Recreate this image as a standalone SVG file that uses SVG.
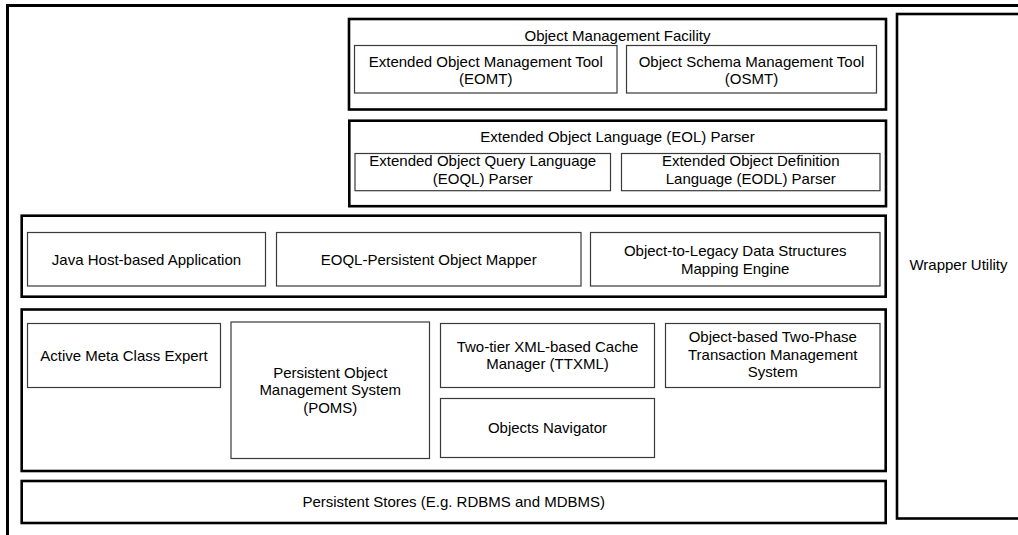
<svg xmlns="http://www.w3.org/2000/svg" width="1018" height="535" viewBox="0 0 1018 535">
<style>
  .outer { fill: #ffffff; stroke: #000000; stroke-width: 2.6; }
  .inner { fill: #ffffff; stroke: #3a3a3a; stroke-width: 1.2; }
  text { font-family: "Liberation Sans", Arial, sans-serif; font-size: 15px; fill: #000000; text-anchor: middle; }
</style>
<rect x="0" y="0" width="1018" height="535" fill="#ffffff"/>
<path d="M7.5,535 V5.5 H1018" fill="none" stroke="#000000" stroke-width="3"/>

<g id="object-management-facility">
  <rect class="outer" x="349" y="19" width="537" height="90.5"/>
  <text x="617.5" y="40.5">Object Management Facility</text>
</g>
<g id="eomt">
  <rect class="inner" x="354.5" y="45.5" width="262.5" height="47.5"/>
  <text x="485.75" y="66.5">Extended Object Management Tool<tspan x="485.75" dy="17.5">(EOMT)</tspan></text>
</g>
<g id="osmt">
  <rect class="inner" x="626.5" y="45.5" width="250" height="47.5"/>
  <text x="751.5" y="66.5">Object Schema Management Tool<tspan x="751.5" dy="17.5">(OSMT)</tspan></text>
</g>

<g id="eol-parser">
  <rect class="outer" x="349.3" y="120.7" width="536.7" height="85.5"/>
  <text x="617.5" y="141.5">Extended Object Language (EOL) Parser</text>
</g>
<g id="eoql-parser">
  <rect class="inner" x="355" y="153.5" width="255.5" height="37.2"/>
  <text x="482.75" y="166">Extended Object Query Language<tspan x="482.75" dy="17.5">(EOQL) Parser</tspan></text>
</g>
<g id="eodl-parser">
  <rect class="inner" x="621.5" y="153.5" width="258.5" height="37.2"/>
  <text x="750.75" y="166">Extended Object Definition<tspan x="750.75" dy="17.5">Language (EODL) Parser</tspan></text>
</g>

<g id="mapping-layer">
  <rect class="outer" x="21.7" y="215.7" width="864" height="81"/>
</g>
<g id="java-host-app">
  <rect class="inner" x="27.5" y="232.5" width="238" height="53.5"/>
  <text x="146.5" y="264.5">Java Host-based Application</text>
</g>
<g id="eoql-po-mapper">
  <rect class="inner" x="276.5" y="232.5" width="304.5" height="53.5"/>
  <text x="428.75" y="264.5">EOQL-Persistent Object Mapper</text>
</g>
<g id="o2l-engine">
  <rect class="inner" x="590.5" y="232.5" width="289.5" height="53.5"/>
  <text x="735.25" y="256">Object-to-Legacy Data Structures<tspan x="735.25" dy="17.5">Mapping Engine</tspan></text>
</g>

<g id="core-layer">
  <rect class="outer" x="21.7" y="309.5" width="864" height="161.5"/>
</g>
<g id="active-meta-class">
  <rect class="inner" x="27.5" y="323.5" width="193" height="64"/>
  <text x="124" y="360.5">Active Meta Class Expert</text>
</g>
<g id="poms">
  <rect class="inner" x="231" y="322" width="198.5" height="136.5"/>
  <text x="330.25" y="377.5">Persistent Object<tspan x="330.25" dy="17.5">Management System</tspan><tspan x="330.25" dy="17.5">(POMS)</tspan></text>
</g>
<g id="ttxml">
  <rect class="inner" x="440.5" y="323.5" width="214" height="64"/>
  <text x="547.5" y="351.5">Two-tier XML-based Cache<tspan x="547.5" dy="17.5">Manager (TTXML)</tspan></text>
</g>
<g id="objects-navigator">
  <rect class="inner" x="440.5" y="398.5" width="214" height="59"/>
  <text x="547.5" y="433">Objects Navigator</text>
</g>
<g id="two-phase-tm">
  <rect class="inner" x="665.5" y="323.5" width="214.5" height="64"/>
  <text x="772.75" y="342">Object-based Two-Phase<tspan x="772.75" dy="17.5">Transaction Management</tspan><tspan x="772.75" dy="17.5">System</tspan></text>
</g>

<g id="persistent-stores">
  <rect class="outer" x="21.7" y="481" width="864" height="42"/>
  <text x="453.7" y="507">Persistent Stores (E.g. RDBMS and MDBMS)</text>
</g>

<g id="wrapper-utility">
  <rect class="outer" x="897" y="14" width="125" height="504.5"/>
  <text x="958.5" y="270">Wrapper Utility</text>
</g>
</svg>
